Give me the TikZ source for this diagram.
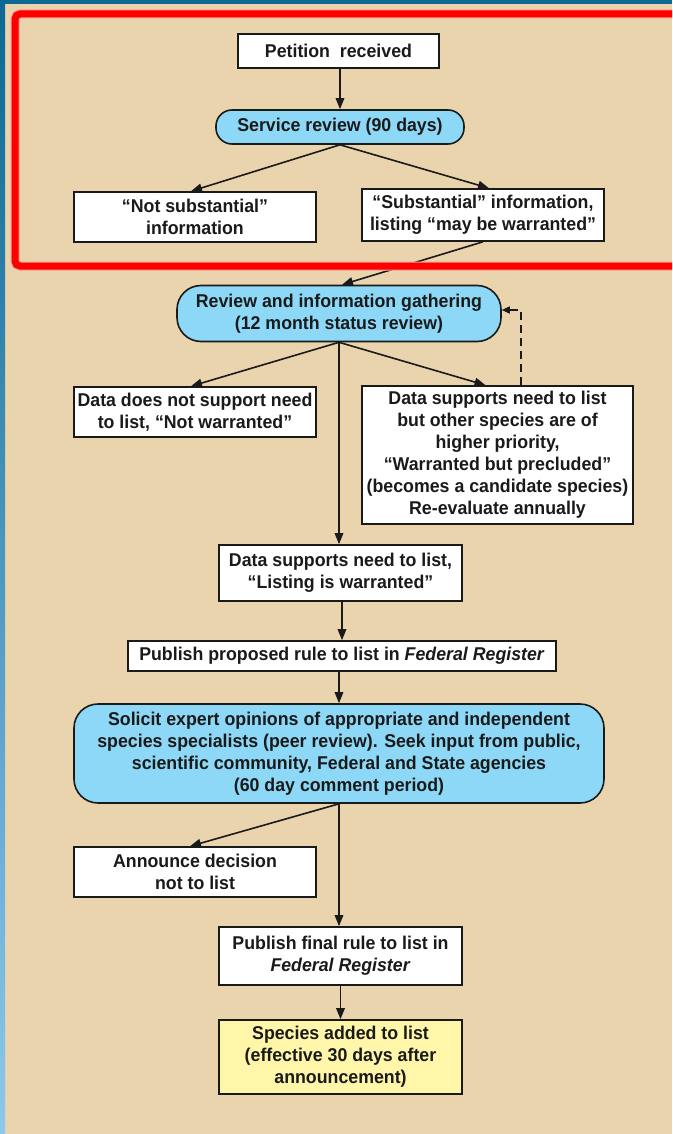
\documentclass[tikz,border=0pt]{standalone}
\usepackage{fontspec}
\setmainfont{Liberation Sans}[FakeStretch=0.96]
\usetikzlibrary{arrows.meta,calc}
\definecolor{tanbg}{HTML}{E9D4AD}
\definecolor{skyb}{HTML}{8DD8F6}
\definecolor{yelb}{HTML}{FFF6AA}
\definecolor{topblue}{HTML}{0C6894}
\definecolor{lowblue}{HTML}{8CC8F0}
\definecolor{halo}{HTML}{F4A090}
\definecolor{ink}{HTML}{1A1A1A}
\tikzset{
  box/.style={draw=ink, line width=1.6pt, fill=white, align=center, inner sep=0pt,
    font=\fontsize{18.5}{22}\selectfont\bfseries, text=ink},
  rbox/.style={box, fill=skyb, rounded corners=#1},
  ybox/.style={box, fill=yelb},
  arr/.style={draw=ink, line width=1.6pt, -{Triangle[length=11pt,width=8.5pt]}},
  darr/.style={draw=ink, line width=1.6pt, dash pattern=on 8pt off 5pt, -{Triangle[length=8pt,width=7pt]}}
}
\begin{document}
\begin{tikzpicture}[x=1pt,y=-1pt]
\useasboundingbox (0,0) rectangle (672,1134);
\clip (0,0) rectangle (672,1134);
\fill[tanbg] (0,0) rectangle (672,1134);
\fill[topblue] (0,0) rectangle (672,4.5);
\shade[top color=topblue, bottom color=lowblue] (0,0) rectangle (5,1134);

\node[box, minimum width=201pt, minimum height=34pt] (petition) at (338.5,51) {Petition\ \ received};
\node[rbox=16pt, minimum width=248pt, minimum height=34pt] (service) at (340,127) {Service review (90 days)};
\node[box, minimum width=242pt, minimum height=50pt] (notsub) at (195,217) {“Not substantial”\\information};
\node[box, minimum width=242pt, minimum height=52pt] (sub) at (483,215) {“Substantial” information,\\listing “may be warranted”};
\node[rbox=24pt, minimum width=324pt, minimum height=56pt] (review) at (339,313.5) {Review and information gathering\\(12 month status review)};
\node[box, minimum width=242pt, minimum height=50pt] (datanot) at (195,412) {Data does not support need\\to list, “Not warranted”};
\node[box, minimum width=271pt, minimum height=138pt] (wbp) at (497.5,455) {Data supports need to list\\but other species are of\\higher priority,\\“Warranted but precluded”\\(becomes a candidate species)\\Re-evaluate annually};
\node[box, minimum width=243pt, minimum height=56pt] (listing) at (340.5,573) {Data supports need to list,\\“Listing is warranted”};
\node[box, minimum width=428pt, minimum height=30pt] (proposed) at (342,656) {Publish proposed rule to list in \textit{Federal Register}};
\node[rbox=24pt, minimum width=530pt, minimum height=99pt] (solicit) at (339,753.5) {Solicit expert opinions of appropriate and independent\\species specialists (peer review). Seek input from public,\\scientific community, Federal and State agencies\\(60 day comment period)};
\node[box, minimum width=242pt, minimum height=50pt] (announce) at (195,872) {Announce decision\\not to list};
\node[box, minimum width=243pt, minimum height=58pt] (final) at (340.5,956) {Publish final rule to list in\\\textit{Federal Register}};
\node[ybox, minimum width=243pt, minimum height=74pt] (species) at (340.5,1057) {Species added to list\\(effective 30 days after\\announcement)};

\draw[arr] (petition.south -| service.south) -- (service.north);
\draw[arr] (service.south) -- ($(notsub.north)+(-4,0)$);
\draw[arr] (service.south) -- ($(sub.north)+(6,0)$);
\draw[arr] (sub.south) -- ($(review.north)+(3,0)$);
\draw[arr] (review.south) -- ($(datanot.north)+(-4,0)$);
\draw[arr] (review.south) -- ($(wbp.north)+(-12,0)$);
\draw[arr] (review.south) -- (review.south |- listing.north);
\draw[arr] (listing.south -| proposed.north) -- (proposed.north);
\draw[arr] (proposed.south -| solicit.north) -- (solicit.north);
\draw[arr] (solicit.south) -- ($(announce.north)+(-5,0)$);
\draw[arr] (solicit.south) -- (solicit.south |- final.north);
\draw[arr] (final.south) -- (species.north);
\draw[darr] ($(wbp.north)+(23.5,0)$) |- ($(review.east)+(0,-3.5)$);

\draw[halo, line width=9pt, rounded corners=5pt] (15,14) rectangle (700,266);
\draw[red, line width=7pt, rounded corners=5pt] (15,14) rectangle (700,266);
\end{tikzpicture}
\end{document}
